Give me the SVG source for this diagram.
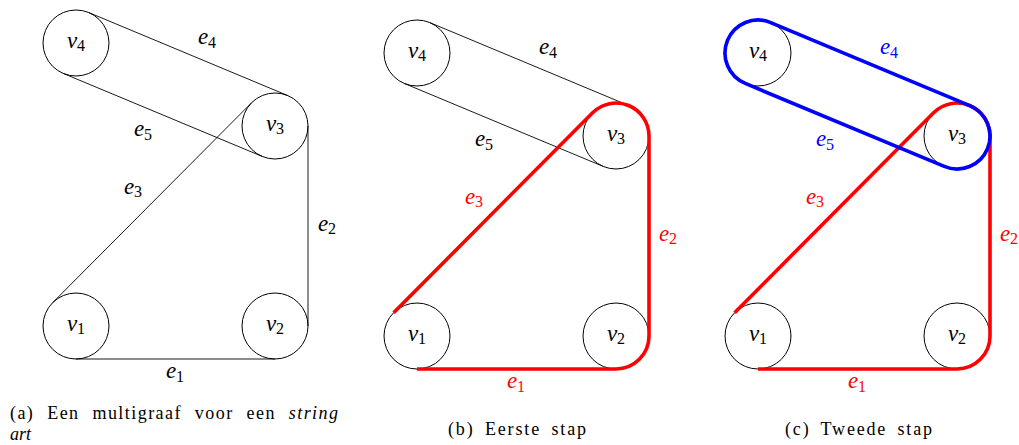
<svg xmlns="http://www.w3.org/2000/svg" width="1019" height="445" viewBox="0 0 1019 445">
<style>
.node{fill:none;stroke:#000;stroke-width:1}
.thin{fill:none;stroke:#000;stroke-width:0.9}
.red{fill:none;stroke:#ff0000;stroke-width:3.6}
.blue{fill:none;stroke:#0000ff;stroke-width:3.6}
.m{font-size:23px;font-style:italic;text-anchor:middle}
.s{font-style:normal;font-size:16px}
.cap{font-size:18px}
.r{fill:#ff0000}
.b{fill:#0000ff}
</style>
<defs>
<path id="pe1" d="M76 359H275"/>
<path id="pe2" d="M308 126V326"/>
<path id="pe3" d="M52.61 302.73L251.61 102.73"/>
<path id="pe4" d="M88.70 12.54L287.70 95.54"/>
<path id="pe5" d="M63.30 73.46L262.30 156.46"/>
<path id="redpath" d="M52.61 302.73L251.61 102.73A33 33 0 0 1 308 126V326A33 33 0 0 1 275 359H76"/>
<path id="bluepath" d="M88.70 12.54L287.70 95.54A33 33 0 0 1 262.30 156.46L63.30 73.46A33 33 0 0 1 88.70 12.54Z"/>
</defs>
<g font-family="'Liberation Serif', 'Times New Roman', serif">
<!-- Panel (a) -->
<g id="panel-a">
<g id="a-v1"><circle class="node" cx="76" cy="326" r="33"/><text class="m" x="76" y="330.5">v<tspan class="s" dy="3.5">1</tspan></text></g>
<g id="a-v2"><circle class="node" cx="275" cy="326" r="33"/><text class="m" x="275" y="330.5">v<tspan class="s" dy="3.5">2</tspan></text></g>
<g id="a-v3"><circle class="node" cx="275" cy="126" r="33"/><text class="m" x="275" y="130.5">v<tspan class="s" dy="3.5">3</tspan></text></g>
<g id="a-v4"><circle class="node" cx="76" cy="43" r="33"/><text class="m" x="76" y="47.5">v<tspan class="s" dy="3.5">4</tspan></text></g>
<g id="a-connectors">
<use href="#pe1" class="thin"/>
<use href="#pe2" class="thin"/>
<use href="#pe3" class="thin"/>
<use href="#pe4" class="thin"/>
<use href="#pe5" class="thin"/>
</g>
<g id="a-labels">
<text class="m" x="175" y="378">e<tspan class="s" dy="3.5">1</tspan></text>
<text class="m" x="327" y="230.5">e<tspan class="s" dy="3.5">2</tspan></text>
<text class="m" x="133" y="193.5">e<tspan class="s" dy="3.5">3</tspan></text>
<text class="m" x="207" y="44">e<tspan class="s" dy="3.5">4</tspan></text>
<text class="m" x="143" y="136">e<tspan class="s" dy="3.5">5</tspan></text>
</g>
<text class="cap" x="10" y="419" word-spacing="7" textLength="328" lengthAdjust="spacing">(a) Een multigraaf voor een <tspan font-style="italic">string</tspan></text>
<text class="cap" x="10" y="440" font-style="italic">art</text>
</g>

<!-- Panel (b) -->
<g id="panel-b">
<g transform="translate(341,10)">
<g id="b-v1"><circle class="node" cx="76" cy="326" r="33"/><text class="m" x="76" y="330.5">v<tspan class="s" dy="3.5">1</tspan></text></g>
<g id="b-v2"><circle class="node" cx="275" cy="326" r="33"/><text class="m" x="275" y="330.5">v<tspan class="s" dy="3.5">2</tspan></text></g>
<g id="b-v3"><circle class="node" cx="275" cy="126" r="33"/><text class="m" x="275" y="130.5">v<tspan class="s" dy="3.5">3</tspan></text></g>
<g id="b-v4"><circle class="node" cx="76" cy="43" r="33"/><text class="m" x="76" y="47.5">v<tspan class="s" dy="3.5">4</tspan></text></g>
<g id="b-connectors">
<use href="#pe4" class="thin"/>
<use href="#pe5" class="thin"/>
<use href="#redpath" class="red"/>
</g>
<g id="b-labels">
<text class="m r" x="175" y="378">e<tspan class="s" dy="3.5">1</tspan></text>
<text class="m r" x="327" y="230.5">e<tspan class="s" dy="3.5">2</tspan></text>
<text class="m r" x="133" y="193.5">e<tspan class="s" dy="3.5">3</tspan></text>
<text class="m" x="207" y="44">e<tspan class="s" dy="3.5">4</tspan></text>
<text class="m" x="143" y="136">e<tspan class="s" dy="3.5">5</tspan></text>
</g>
</g>
<text class="cap" x="448" y="435" word-spacing="4" textLength="138" lengthAdjust="spacing">(b) Eerste stap</text>
</g>

<!-- Panel (c) -->
<g id="panel-c">
<g transform="translate(682,10)">
<g id="c-v1"><circle class="node" cx="76" cy="326" r="33"/><text class="m" x="76" y="330.5">v<tspan class="s" dy="3.5">1</tspan></text></g>
<g id="c-v2"><circle class="node" cx="275" cy="326" r="33"/><text class="m" x="275" y="330.5">v<tspan class="s" dy="3.5">2</tspan></text></g>
<g id="c-v3"><circle class="node" cx="275" cy="126" r="33"/><text class="m" x="275" y="130.5">v<tspan class="s" dy="3.5">3</tspan></text></g>
<g id="c-v4"><circle class="node" cx="76" cy="43" r="33"/><text class="m" x="76" y="47.5">v<tspan class="s" dy="3.5">4</tspan></text></g>
<g id="c-connectors">
<use href="#redpath" class="red"/>
<use href="#bluepath" class="blue"/>
</g>
<g id="c-labels">
<text class="m r" x="175" y="378">e<tspan class="s" dy="3.5">1</tspan></text>
<text class="m r" x="327" y="230.5">e<tspan class="s" dy="3.5">2</tspan></text>
<text class="m r" x="133" y="193.5">e<tspan class="s" dy="3.5">3</tspan></text>
<text class="m b" x="207" y="44">e<tspan class="s" dy="3.5">4</tspan></text>
<text class="m b" x="143" y="136">e<tspan class="s" dy="3.5">5</tspan></text>
</g>
</g>
<text class="cap" x="785" y="435" word-spacing="4" textLength="147" lengthAdjust="spacing">(c) Tweede stap</text>
</g>
</g>
</svg>
